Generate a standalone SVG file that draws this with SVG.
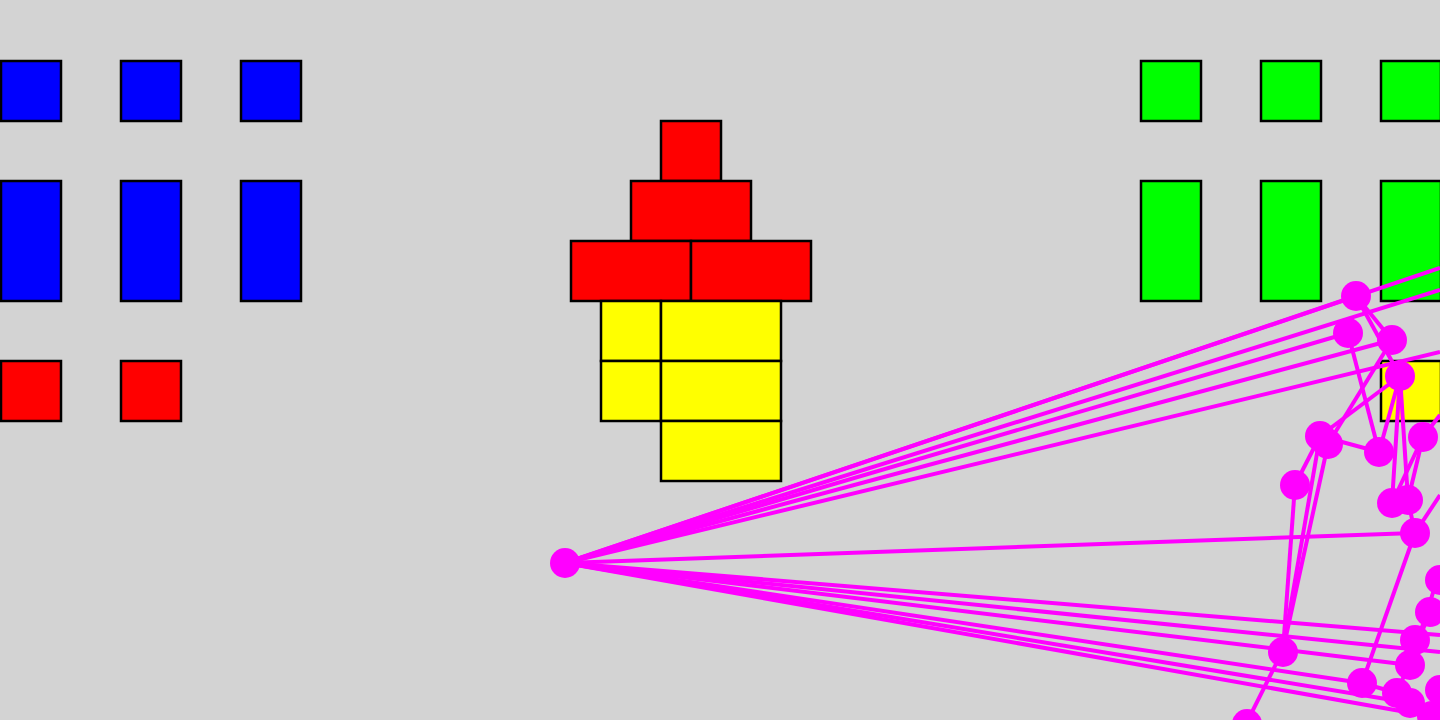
<svg xmlns="http://www.w3.org/2000/svg" width="1440" height="720" viewBox="0 0 1440 720">
<style>
rect.c{stroke:#000;stroke-width:2.5}
.b{fill:#0000ff}.r{fill:#ff0000}.y{fill:#ffff00}.g{fill:#00ff00}
#edges line{stroke:#ff00ff;stroke-width:4}
#nodes circle{fill:#ff00ff}
</style>
<rect width="1440" height="720" fill="#d3d3d3"/>
<g id="blue-blocks" transform="translate(1,1)">
<rect class="c b" x="0" y="60" width="60" height="60"/>
<rect class="c b" x="120" y="60" width="60" height="60"/>
<rect class="c b" x="240" y="60" width="60" height="60"/>
<rect class="c b" x="0" y="180" width="60" height="120"/>
<rect class="c b" x="120" y="180" width="60" height="120"/>
<rect class="c b" x="240" y="180" width="60" height="120"/>
<rect class="c r" x="0" y="360" width="60" height="60"/>
<rect class="c r" x="120" y="360" width="60" height="60"/>
</g>
<g id="center-blocks" transform="translate(1,1)">
<rect class="c r" x="660" y="120" width="60" height="60"/>
<rect class="c r" x="630" y="180" width="120" height="60"/>
<rect class="c r" x="570" y="240" width="120" height="60"/>
<rect class="c r" x="690" y="240" width="120" height="60"/>
<rect class="c y" x="600" y="300" width="60" height="60"/>
<rect class="c y" x="660" y="300" width="120" height="60"/>
<rect class="c y" x="600" y="360" width="60" height="60"/>
<rect class="c y" x="660" y="360" width="120" height="60"/>
<rect class="c y" x="660" y="420" width="120" height="60"/>
</g>
<g id="green-blocks" transform="translate(1,1)">
<rect class="c g" x="1140" y="60" width="60" height="60"/>
<rect class="c g" x="1260" y="60" width="60" height="60"/>
<rect class="c g" x="1380" y="60" width="60" height="60"/>
<rect class="c g" x="1140" y="180" width="60" height="120"/>
<rect class="c g" x="1260" y="180" width="60" height="120"/>
<rect class="c g" x="1380" y="180" width="60" height="120"/>
<rect class="c y" x="1380" y="360" width="60" height="60"/>
</g>
<g id="edges">
<line x1="565" y1="563" x2="1356" y2="296"/>
<line x1="565" y1="563" x2="1440" y2="268"/>
<line x1="565" y1="563" x2="1440" y2="290"/>
<line x1="565" y1="563" x2="1348" y2="333"/>
<line x1="565" y1="563" x2="1392" y2="340"/>
<line x1="565" y1="563" x2="1440" y2="352"/>
<line x1="565" y1="563" x2="1415" y2="533"/>
<line x1="565" y1="563" x2="1440" y2="635"/>
<line x1="565" y1="563" x2="1440" y2="652"/>
<line x1="565" y1="563" x2="1410" y2="665"/>
<line x1="565" y1="563" x2="1362" y2="683"/>
<line x1="565" y1="563" x2="1410" y2="703"/>
<line x1="565" y1="563" x2="1440" y2="718"/>
<line x1="1356" y1="296" x2="1392" y2="340"/>
<line x1="1356" y1="296" x2="1400" y2="376"/>
<line x1="1348" y1="333" x2="1379" y2="452"/>
<line x1="1320" y1="436" x2="1400" y2="376"/>
<line x1="1328" y1="444" x2="1392" y2="340"/>
<line x1="1320" y1="436" x2="1379" y2="452"/>
<line x1="1320" y1="436" x2="1295" y2="485"/>
<line x1="1320" y1="436" x2="1283" y2="650"/>
<line x1="1328" y1="444" x2="1283" y2="650"/>
<line x1="1295" y1="485" x2="1283" y2="650"/>
<line x1="1283" y1="650" x2="1247" y2="722"/>
<line x1="1400" y1="376" x2="1408" y2="500"/>
<line x1="1400" y1="376" x2="1392" y2="503"/>
<line x1="1400" y1="376" x2="1379" y2="452"/>
<line x1="1423" y1="437" x2="1392" y2="503"/>
<line x1="1423" y1="437" x2="1408" y2="500"/>
<line x1="1423" y1="437" x2="1440" y2="415"/>
<line x1="1415" y1="533" x2="1362" y2="683"/>
<line x1="1415" y1="533" x2="1440" y2="495"/>
<line x1="1362" y1="683" x2="1397" y2="693"/>
<line x1="1408" y1="500" x2="1415" y2="533"/>
<line x1="1437" y1="580" x2="1410" y2="665"/>
<line x1="1430" y1="612" x2="1397" y2="693"/>
</g>
<g id="nodes">
<circle cx="565" cy="563" r="15"/>
<circle cx="1356" cy="296" r="15"/>
<circle cx="1348" cy="333" r="15"/>
<circle cx="1392" cy="340" r="15"/>
<circle cx="1400" cy="376" r="15"/>
<circle cx="1320" cy="436" r="15"/>
<circle cx="1328" cy="444" r="15"/>
<circle cx="1379" cy="452" r="15"/>
<circle cx="1423" cy="437" r="15"/>
<circle cx="1295" cy="485" r="15"/>
<circle cx="1392" cy="503" r="15"/>
<circle cx="1408" cy="500" r="15"/>
<circle cx="1415" cy="533" r="15"/>
<circle cx="1440" cy="580" r="15"/>
<circle cx="1430" cy="612" r="15"/>
<circle cx="1415" cy="640" r="15"/>
<circle cx="1410" cy="665" r="15"/>
<circle cx="1283" cy="652" r="15"/>
<circle cx="1362" cy="683" r="15"/>
<circle cx="1397" cy="693" r="15"/>
<circle cx="1410" cy="703" r="15"/>
<circle cx="1432" cy="716" r="15"/>
<circle cx="1440" cy="690" r="15"/>
<circle cx="1247" cy="724" r="15"/>
</g>
</svg>
